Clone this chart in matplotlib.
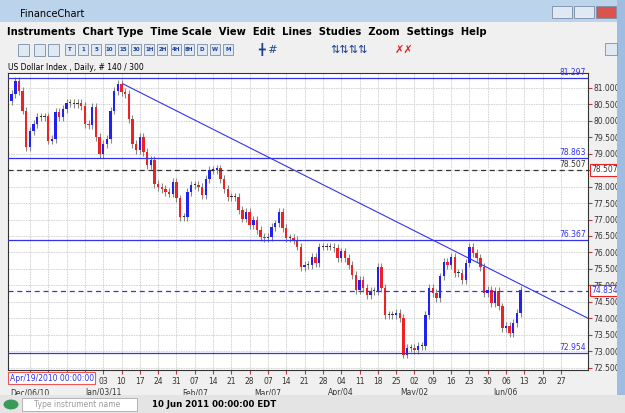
import matplotlib
matplotlib.use("Agg")
import matplotlib.pyplot as plt
import matplotlib.patches as mp
import pandas as pd
import numpy as np

closes = [80.81,81.22,80.91,80.31,79.20,79.70,79.91,80.11,80.11,80.13,
          79.40,79.45,80.26,80.11,80.36,80.53,80.53,80.51,80.53,80.46,
          79.91,79.86,80.41,79.50,79.00,79.30,79.45,80.31,80.91,81.12,
          80.86,80.81,80.06,79.30,79.10,79.50,79.05,78.65,78.80,78.09,
          77.99,77.94,77.84,77.79,78.14,77.64,77.08,77.08,77.84,78.04,
          78.04,77.99,77.74,78.24,78.50,78.50,78.55,78.24,77.94,77.69,
          77.69,77.69,77.29,77.03,77.24,76.83,76.98,76.68,76.48,76.43,
          76.48,76.78,76.88,77.24,76.73,76.43,76.43,76.38,76.18,75.57,
          75.62,75.62,75.87,75.69,76.18,76.18,76.18,76.18,76.13,75.82,
          76.03,75.82,75.62,75.32,74.87,75.17,74.92,74.71,74.82,74.82,
          75.57,74.92,74.11,74.11,74.11,74.16,74.01,72.90,73.10,73.10,
          73.05,73.15,73.15,74.11,74.92,74.77,74.61,75.27,75.72,75.62,
          75.87,75.37,75.37,75.17,75.67,76.18,75.97,75.82,75.57,74.77,
          74.87,74.46,74.82,74.36,73.71,73.76,73.56,73.86,74.16,74.87]
first_open = 80.60
hlines_solid = [81.297, 78.863, 76.367, 72.954]
hline_black_dash = 78.507
hline_blue_dash = 74.834
trend_start = (30.4, 81.12)
trend_end = (157.4, 74.00)
day_ticks = ["06","13","20","27","03","10","17","24","31","07","14","21","28","07","14","21","28",
             "04","11","18","25","02","09","16","23","30","06","13","20","27"]
month_labels = {"2010-12-06":"Dec/06/10","2011-01-03":"Jan/03/11","2011-02-07":"Feb/07",
                "2011-03-07":"Mar/07","2011-04-04":"Apr/04","2011-05-02":"May/02","2011-06-06":"Jun/06"}

n = len(closes)
dates = pd.bdate_range("2010-11-29", periods=165)
opens = [first_open] + closes[:-1]

W, H = 625, 413
fig = plt.figure(figsize=(6.25, 4.13), dpi=100)
fig.patch.set_facecolor("#f0f0f0")
def px(x, y, w, h, **kw):
    fig.patches.append(mp.Rectangle((x/W, 1-(y+h)/H), w/W, h/H, transform=fig.transFigure, **kw))
# window chrome
px(0, 0, W, 22, facecolor="#bcd3ec", edgecolor="none")
px(0, 22, W, 18, facecolor="#f0f0f0", edgecolor="none")
px(617, 0, 8, H, facecolor="#9fbde0", edgecolor="none")
px(0, 395, W, 18, facecolor="#e4e4e4", edgecolor="none")
fig.text(20/W, 1-14/H, "FinanceChart", fontsize=7, va="center")
for xx, c in [(552, "#dfe8f3"), (574, "#dfe8f3"), (596, "#d9534f")]:
    px(xx, 6, 20, 12, facecolor=c, edgecolor="#7a8ea8", lw=0.6)
fig.text(7/W, 1-32/H, "Instruments  Chart Type  Time Scale  View  Edit  Lines  Studies  Zoom  Settings  Help",
         fontsize=7.2, va="center", weight="semibold")
for xx in [18, 34, 48]:
    px(xx, 44, 11, 12, facecolor="#dfe8f3", edgecolor="#7a8ea8", lw=0.6)
for i, t in enumerate(["T","1","5","10","15","30","1H","2H","4H","8H","D","W","M"]):
    xx = 65 + i*13.2
    px(xx, 44, 10, 11, facecolor="#dfe8f3", edgecolor="#7a8ea8", lw=0.6)
    fig.text((xx+5)/W, 1-49.5/H, t, fontsize=4, ha="center", va="center", color="#1f3f8f", weight="bold")
fig.text(258/W, 1-49.5/H, "╋ #", fontsize=8, va="center", color="#1f3f8f")
fig.text(330/W, 1-49.5/H, "⇅⇅⇅⇅", fontsize=8, va="center", color="#1f3f8f")
fig.text(395/W, 1-49.5/H, "✗✗", fontsize=8, va="center", color="#dd2222")
px(605, 43, 12, 12, facecolor="#dfe8f3", edgecolor="#7a8ea8", lw=0.6)
fig.text(8/W, 1-67/H, "US Dollar Index , Daily, # 140 / 300", fontsize=5.5, va="center")
px(22, 398, 115, 13, facecolor="white", edgecolor="#aaaaaa", lw=0.6)
fig.text(34/W, 1-404.5/H, "Type instrument name", fontsize=5.5, va="center", color="#999999")
fig.patches.append(mp.Circle((11/W, 1-404.5/H), 0.012, transform=fig.transFigure, facecolor="#3a9a5a"))
fig.text(152/W, 1-404.5/H, "10 Jun 2011 00:00:00 EDT", fontsize=6.2, va="center", weight="bold")

ax = fig.add_axes([8/W, 43/H, 580/W, 297/H])
ax.set_facecolor("white")
ax.set_xlim(-1, 157.4)
ax.set_ylim(72.43, 81.45)
yt = np.arange(72.5, 81.01, 0.5)
ax.set_yticks(yt)
ax.yaxis.tick_right()
ax.set_yticklabels([f"{v:.3f}" for v in yt], fontsize=5.5, color="#333333")
ax.tick_params(axis="y", length=3, color="#cc3333", pad=1)
mondays = [i for i, d in enumerate(dates) if d.weekday() == 0 and d >= pd.Timestamp("2010-12-06")][:len(day_ticks)]
ax.set_xticks(mondays)
ax.set_xticklabels(day_ticks, fontsize=5.5, color="#333333")
ax.tick_params(axis="x", length=3, color="#cc3333", pad=2)
ax.grid(True, color="#d0d0d0", lw=0.6, ls=(0, (2, 1)))
ax.set_axisbelow(True)
for i, d in enumerate(dates):
    k = d.strftime("%Y-%m-%d")
    if k in month_labels:
        ax.text(i, -0.062, month_labels[k], transform=ax.get_xaxis_transform(),
                fontsize=5.5, ha="center", va="top", color="#333333")
for s in ax.spines.values():
    s.set_color("#333333")

for i in range(n):
    o, c = opens[i], closes[i]
    hi, lo = max(o, c) + 0.12, min(o, c) - 0.12
    ax.vlines(i, lo, hi, color="#888888", lw=0.8, zorder=2)
    col = "#2222ee" if c >= o else "#ee2222"
    b = max(abs(c - o), 0.03)
    ax.bar(i, b, bottom=min(o, c), width=0.65, color=col if abs(c-o) > 0.03 else "#333333", zorder=3)

for v in hlines_solid:
    ax.axhline(v, color="#3333ee", lw=0.9, zorder=4)
    ax.text(156.8, v + 0.03, f"{v:.3f}", color="#3333ee", fontsize=5.5, ha="right", va="bottom")
ax.axhline(hline_black_dash, color="#333333", lw=0.9, ls=(0, (4, 3)), zorder=4)
ax.text(156.8, hline_black_dash + 0.03, f"{hline_black_dash:.3f}", color="#333333", fontsize=5.5, ha="right", va="bottom")
ax.axhline(hline_blue_dash, color="#3333ee", lw=0.9, ls=(0, (4, 3)), zorder=4)
ax.plot([trend_start[0], trend_end[0]], [trend_start[1], trend_end[1]], color="#3333ee", lw=0.8, zorder=4)
for v, tc in [(hline_black_dash, "#333333"), (hline_blue_dash, "#3333ee")]:
    ax.text(1.005, v, f"{v:.3f}", transform=ax.get_yaxis_transform(), fontsize=5.5, color=tc,
            va="center", ha="left", bbox=dict(boxstyle="square,pad=0.15", fc="white", ec="#ee2222", lw=0.8))
ax.text(0.003, -0.012, "Apr/19/2010 00:00:00", transform=ax.transAxes, fontsize=5.5, color="#3333ee",
        va="top", ha="left", bbox=dict(boxstyle="square,pad=0.2", fc="white", ec="#ee5555", lw=0.8), zorder=10)

fig.savefig("out.png", dpi=100)
